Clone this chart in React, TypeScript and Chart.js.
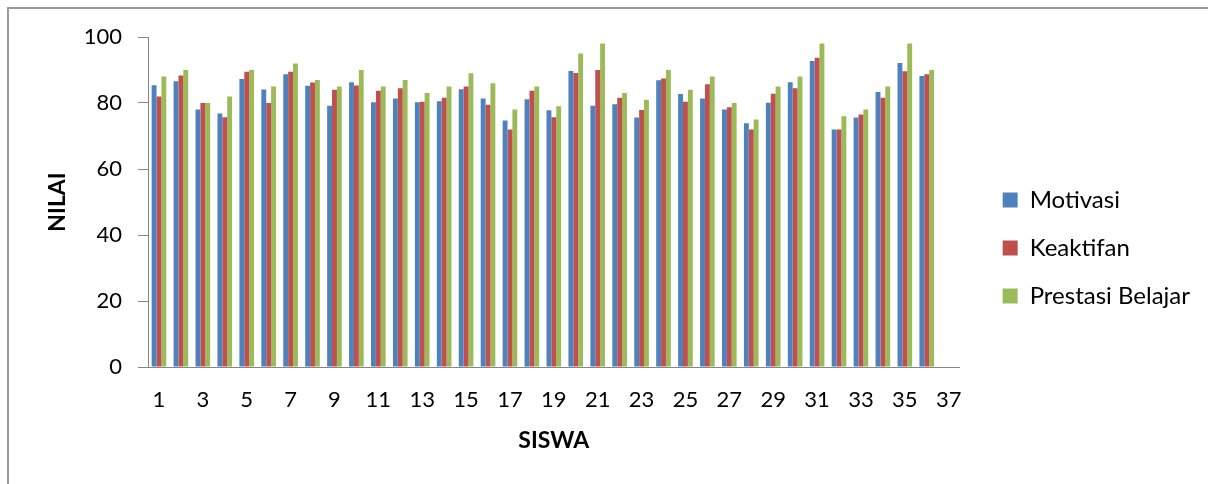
import { useEffect, useRef } from 'react';
import { Chart, registerables } from 'chart.js';
Chart.register(...registerables);

const categories = ['1','2','3','4','5','6','7','8','9','10','11','12','13','14','15','16','17','18','19','20','21','22','23','24','25','26','27','28','29','30','31','32','33','34','35','36','37'];
const motivasi = [85.4, 86.6, 78, 76.8, 87.3, 84.1, 88.7, 85.2, 79.2, 86.3, 80.2, 81.4, 80.2, 80.5, 84.2, 81.4, 74.7, 81.1, 77.8, 89.7, 79.2, 79.6, 75.6, 86.9, 82.7, 81.4, 78, 73.9, 80.1, 86.3, 92.7, 72, 75.6, 83.3, 92.1, 88.2];
const keaktifan = [82, 88.3, 80, 75.7, 89.5, 80, 89.5, 86.2, 84, 85.3, 83.7, 84.5, 80.4, 81.6, 85, 79.5, 72, 83.7, 75.7, 89.1, 90, 81.6, 77.9, 87.4, 80.4, 85.7, 78.7, 72, 82.8, 84.5, 93.7, 72, 76.5, 81.6, 89.6, 88.7];
const prestasi = [88, 90, 80, 82, 90, 85, 92, 87, 85, 90, 85, 87, 83, 85, 89, 86, 78, 85, 79, 95, 98, 83, 81, 90, 84, 88, 80, 75, 85, 88, 98, 76, 78, 85, 98, 90];
const seriesNames = ['Motivasi', 'Keaktifan', 'Prestasi Belajar'];
const yTicks = [0, 20, 40, 60, 80, 100];

const FONT = 'Lato, "Open Sans", sans-serif';

export default function App() {
  const ref = useRef<HTMLCanvasElement | null>(null);
  useEffect(() => {
    if (!ref.current) return;
    const chart = new Chart(ref.current, {
      type: 'bar',
      data: {
        labels: categories,
        datasets: [
          { label: seriesNames[0], data: motivasi, backgroundColor: '#4F81BD' },
          { label: seriesNames[1], data: keaktifan, backgroundColor: '#C0504D' },
          { label: seriesNames[2], data: prestasi, backgroundColor: '#9BBB59' },
        ],
      },
      options: {
        animation: false,
        responsive: false,
        maintainAspectRatio: false,
        layout: { padding: { top: 37, right: 8, bottom: 0, left: 0 } },
        datasets: { bar: { categoryPercentage: 0.667, barPercentage: 1, borderWidth: 0 } },
        plugins: {
          tooltip: { enabled: false },
          legend: {
            position: 'right',
            align: 'start',
            maxWidth: 300,
            title: {
              display: true,
              text: ' ',
              font: { family: FONT, size: 10 },
              padding: { top: 115, bottom: 0 },
            },
            labels: {
              boxWidth: 15,
              boxHeight: 15,
              padding: 24,
              color: '#000',
              font: { family: FONT, size: 24 },
            },
          },
        },
        scales: {
          x: {
            grid: { display: true, drawOnChartArea: false, drawTicks: false },
            border: { color: '#868686', width: 1 },
            ticks: {
              autoSkip: false,
              maxRotation: 0,
              minRotation: 0,
              padding: 20,
              color: '#000',
              font: { family: FONT, size: 22 },
              callback: (_v: any, i: number) => (i % 2 === 0 ? categories[i] : ''),
            },
            title: {
              display: true,
              text: 'SISWA',
              color: '#000',
              font: { family: FONT, size: 23, weight: 'bold' },
              padding: { top: 0, bottom: 30 },
            },
            afterFit: (s: any) => { s.height = 117; },
          },
          y: {
            min: 0,
            max: 100,
            afterBuildTicks: (s: any) => { s.ticks = yTicks.map((v) => ({ value: v })); },
            grid: { display: true, drawOnChartArea: false, drawTicks: true, tickLength: 10, color: '#868686' },
            border: { color: '#868686', width: 1 },
            ticks: {
              padding: 16,
              color: '#000',
              font: { family: FONT, size: 22 },
            },
            title: {
              display: true,
              text: 'NILAI',
              color: '#000',
              font: { family: FONT, size: 23, weight: 'bold' },
              padding: { top: 44, bottom: 0 },
            },
            afterFit: (s: any) => { s.width = 148; },
          },
          spacer: {
            type: 'linear',
            position: 'right',
            display: true,
            grid: { display: false, drawTicks: false },
            border: { display: false },
            ticks: { display: false },
            afterFit: (s: any) => { s.width = 19; },
          },
        },
      },
    });
    return () => chart.destroy();
  }, []);
  return (
    <div style={{ position: 'fixed', left: 0, top: 0, width: 1208, height: 484, overflow: 'hidden', background: '#fff' }}>
      <div style={{ position: 'absolute', left: 7, top: 7, width: 1400, height: 600, borderTop: '2px solid #9a9a9a', borderLeft: '2px solid #9a9a9a' }} />
      <canvas ref={ref} width={1208} height={484} style={{ position: 'absolute', left: 0, top: 0, width: 1208, height: 484 }} />
    </div>
  );
}
